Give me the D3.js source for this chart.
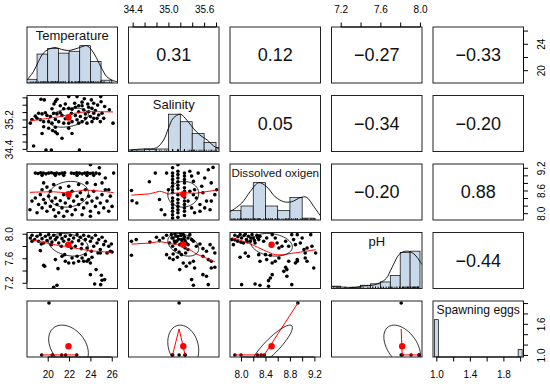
<!DOCTYPE html>
<html>
<head>
<meta charset="utf-8">
<script src="https://cdn.jsdelivr.net/npm/d3@7"></script>
<style>
  body { margin: 0; background: #fff; }
  svg { display: block; font-family: "Liberation Sans", Arial, Helvetica, sans-serif; }
</style>
</head>
<body>
<svg width="550" height="384"></svg>
<script>
// ---- data ----
const variables = ["Temperature", "Salinity", "Dissolved oxigen", "pH", "Spawning eggs"];
const labelSizes = [13, 13, 11.6, 13, 12.2];

// plotted range of each variable (data range + 4%)
const limits = [[18.06, 26.54], [34.33, 35.85], [7.82, 9.30], [7.107, 8.02], [0.96, 2.04]];
const means = [21.95, 35.25, 8.5, 7.82, 1.167];
const sds = [1.86, 0.26, 0.34, 0.185, 0.408];

// correlations shown in the upper panels
const correlations = [
  [null, 0.31, 0.12, -0.27, -0.33],
  [0.31, null, 0.05, -0.34, -0.20],
  [0.12, 0.05, null, -0.20, 0.88],
  [-0.27, -0.34, -0.20, null, -0.44],
  [-0.33, -0.20, 0.88, -0.44, null]
];

// axis ticks and the ones that carry a label
const tickValues = [
  [20, 22, 24, 26],
  [34.4, 34.6, 34.8, 35.0, 35.2, 35.4, 35.6, 35.8],
  [8.0, 8.2, 8.4, 8.6, 8.8, 9.0, 9.2],
  [7.2, 7.4, 7.6, 7.8, 8.0],
  [1.0, 1.2, 1.4, 1.6, 1.8, 2.0]
];
const salTopLabels = [34.4, 35.0, 35.6];
const phTopLabels = [7.2, 7.6, 8.0];
const salLeftLabels = [34.4, 35.2];
const phLeftLabels = [7.2, 7.6, 8.0];
const tempBottomLabels = [20, 22, 24, 26];
const doBottomLabels = [8.0, 8.4, 8.8, 9.2];
const spawnBottomLabels = [1.0, 1.4, 1.8];
const tempRightLabels = [20, 24];
const doRightLabels = [8.0, 8.6, 9.2];
const spawnRightLabels = [1.0, 1.6];

// histograms on the diagonal
const tempBreaks = [18, 19, 20, 21, 22, 23, 24, 25, 26];
const tempCounts = [4, 31, 37, 32, 34, 40, 23, 3];
const salBreaks = [34.2, 34.4, 34.6, 34.8, 35.0, 35.2, 35.4, 35.6, 35.8, 36.0];
const salCounts = [1, 3, 4, 5, 74, 59, 36, 18, 8];
const doBreaks = [7.8, 8.0, 8.2, 8.4, 8.6, 8.8, 9.0, 9.2];
const doCounts = [10, 15, 40, 15, 10, 24, 2];
const phBreaks = [7.1, 7.2, 7.3, 7.4, 7.5, 7.6, 7.7, 7.8, 7.9, 8.0];
const phCounts = [5, 0, 2, 7, 10, 14, 28, 77, 80];
const spawnValues = [1, 2];
const spawnCounts = [5, 1];

// density curves (scaled to max 1)
const tempDensity = [[18.06,0.08],[18.65,0.30],[19.12,0.57],[19.59,0.80],[20.06,0.90],[20.68,0.95],[21.31,0.90],[21.93,0.87],[22.56,0.91],[23.19,0.97],[23.65,1.0],[24.12,0.88],[24.59,0.66],[25.06,0.39],[25.53,0.17],[26.0,0.08],[26.54,0.03]];
const salDensity = [[34.33,0.04],[34.58,0.07],[34.80,0.10],[34.92,0.31],[35.0,0.62],[35.08,0.89],[35.2,1.0],[35.31,0.84],[35.42,0.62],[35.53,0.44],[35.65,0.31],[35.76,0.15],[35.85,0.07]];
const doDensity = [[7.82,0.22],[8.01,0.45],[8.15,0.76],[8.29,1.0],[8.42,0.89],[8.56,0.62],[8.70,0.49],[8.83,0.49],[8.97,0.60],[9.07,0.61],[9.19,0.36],[9.30,0.11]];
const phDensity = [[7.107,0.05],[7.2,0.04],[7.33,0.03],[7.43,0.07],[7.53,0.09],[7.60,0.16],[7.66,0.27],[7.715,0.55],[7.80,0.94],[7.88,1.0],[7.95,0.9],[8.0,0.72],[8.02,0.64]];

// scatter panels, [x, y]
const tempSal = [[19.37,35.75],[19.68,35.73],[20.59,35.62],[20.72,35.69],[20.87,35.75],[21.97,35.82],[22.75,35.82],[23.43,35.76],[24.09,35.73],[24.97,35.82],[25.0,35.68],[21.65,35.62],[22.53,35.64],[23.22,35.67],[23.75,35.62],[24.31,35.64],[24.68,35.59],[25.34,35.55],[25.78,35.46],[26.12,35.10],
  [18.84,35.29],[19.15,35.37],[19.47,35.35],[19.78,35.38],[19.93,35.31],[20.25,35.28],[20.56,35.37],[20.87,35.35],[21.18,35.38],[21.34,35.31],[21.65,35.22],[22.22,35.37],[22.59,35.31],[22.9,35.41],[23.06,35.28],[23.37,35.46],[23.53,35.35],[23.84,35.41],[24.0,35.28],[24.15,35.5],[24.31,35.37],[24.47,35.44],[24.62,35.23],[24.78,35.32],[25.09,35.37],[24.93,35.14],[24.15,35.14],[23.68,35.1],[23.22,35.14],[22.75,35.19],[22.28,35.14],[21.97,35.1],[21.5,35.1],[21.03,35.14],[20.72,35.2],[20.4,35.1],[20.09,35.14],[19.62,35.14],[19.31,35.19],[19.0,35.23],[18.53,35.2],[18.37,35.1],[22.28,35.48],[22.59,35.53],[22.9,35.57],[23.22,35.57],[23.84,35.53],[21.97,35.5],[21.5,35.49],[21.18,35.57],[20.4,35.49],[23.53,35.23],[22.9,35.1],[24.31,35.23],[25.25,35.23],
  [19.47,34.82],[19.62,35.0],[20.09,34.96],[20.46,34.9],[20.72,34.86],[20.9,34.81],[21.34,34.69],[22.28,34.82],[21.97,34.96],[20.72,34.99],[18.68,34.48],[19.84,34.37],[20.34,34.37],[22.97,34.37]];

const tempDO = [[18.84,9.06],[19.09,9.05],[19.34,9.07],[19.59,9.06],[19.84,9.04],[20.09,9.06],[20.34,9.07],[20.59,9.05],[20.84,9.06],[21.09,9.04],[21.34,9.06],[21.59,9.07],[22.22,9.06],[22.47,9.05],[22.72,9.07],[22.97,9.06],[23.22,9.04],[23.47,9.06],[23.72,9.07],[23.97,9.05],[24.22,9.06],[24.53,9.06],[24.84,9.04],
  [19.47,9.0],[20.72,9.0],[21.5,9.0],[22.75,9.0],[23.68,9.0],[24.31,9.0],
  [24.0,9.28],[24.84,9.2],[26.18,9.06],[25.4,8.93],[25.09,8.8],[19.62,8.8],[19.93,8.69],[20.56,8.76],
  [18.53,8.32],[18.84,8.40],[19.15,8.23],[19.31,8.49],[19.47,8.14],[19.62,8.36],[19.78,8.27],[19.93,8.05],[20.09,8.45],[20.25,8.18],[20.4,8.32],[20.56,8.09],[20.72,8.40],[20.87,8.23],[21.03,8.01],[21.18,8.33],[21.34,8.14],[21.5,8.49],[21.65,8.27],[21.81,8.05],[21.97,8.40],[22.12,8.18],[22.28,8.58],[22.43,8.32],[22.59,8.09],[22.75,8.45],[22.9,8.23],[23.06,8.54],[23.22,8.36],[23.37,8.14],[23.53,8.62],[23.68,8.27],[23.84,8.45],[24.0,8.05],[24.15,8.32],[24.31,8.58],[24.47,8.18],[24.62,8.40],[24.78,8.01],[24.93,8.27],[25.09,8.49],[25.25,8.14],[25.4,8.62],[25.56,8.32],[25.72,8.05],[25.87,8.45],[26.03,8.18],
  [18.34,8.09],[19.0,8.01],[20.72,7.92],[21.5,7.92],[22.28,7.96],[23.22,7.96],[24.0,7.92],[19.47,8.62],[20.25,8.58],[21.18,8.67],[21.97,8.71],[22.9,8.76],[23.68,8.80],[24.47,8.76],[25.72,8.62]];

const salDO = [[34.38,8.60],[34.39,8.33],[34.47,8.27],[34.68,8.83],[34.78,9.06],[34.85,8.36],[34.88,8.09],[34.97,9.06],[34.94,7.96],[35.0,8.62],
  [35.07,9.20],[35.07,9.06],[35.07,8.98],[35.07,8.89],[35.07,8.80],[35.07,8.71],[35.07,8.62],[35.07,8.54],[35.07,8.40],[35.07,8.32],[35.07,8.23],[35.07,8.14],[35.07,8.05],[35.07,7.96],[35.07,7.87],
  [35.16,9.28],[35.16,9.11],[35.16,9.02],[35.16,8.93],[35.16,8.83],[35.16,8.74],[35.16,8.65],[35.16,8.49],[35.16,8.36],[35.16,8.27],[35.16,8.18],[35.16,8.09],[35.16,8.01],[35.16,7.89],
  [35.27,9.06],[35.27,8.98],[35.27,8.89],[35.27,8.80],[35.27,8.67],[35.27,8.58],[35.27,8.42],[35.27,8.32],[35.27,8.23],[35.27,8.14],[35.27,8.05],[35.27,7.94],
  [35.36,9.11],[35.39,8.98],[35.42,8.84],[35.44,8.62],[35.47,8.40],[35.5,9.06],[35.53,8.23],[35.56,8.71],[35.58,8.54],[35.61,8.93],[35.64,8.32],[35.67,9.15],[35.70,8.09],[35.72,8.80],[35.75,9.21],[35.78,8.49],[35.81,8.62],[35.39,8.14],[35.44,8.01],[35.33,8.32],[35.61,8.14],[35.72,8.32],[35.53,8.05],[35.36,8.58],[35.42,8.49]];

const tempPH = [[19.31,7.724],[19.62,7.485],[19.715,7.469],[20.72,7.578],[20.965,7.431],[21.59,7.659],[21.65,7.551],[21.97,7.523],[22.43,7.523],[22.75,7.632],[23.22,7.605],[23.37,7.551],[23.68,7.551],[23.84,7.578],[24.0,7.523],[24.0,7.333],[24.53,7.415],[24.715,7.686],[24.93,7.686],[25.03,7.322],[25.09,7.241],[25.34,7.252],[25.56,7.686],[26.03,7.703],[24.4,7.181],[24.965,7.17],[20.56,7.127],[20.87,7.159],[21.34,7.632],[22.28,7.605],[22.9,7.551],[23.53,7.659],[24.15,7.616],
  [18.37,7.931],[18.53,7.974],[18.78,7.904],[19.0,7.958],[19.15,7.877],[19.31,7.985],[19.47,7.92],[19.62,7.849],[19.78,7.958],[19.93,7.887],[20.09,7.985],[20.25,7.931],[20.4,7.866],[20.56,7.974],[20.72,7.904],[20.87,7.942],[21.03,7.849],[21.18,7.985],[21.34,7.92],[21.5,7.877],[21.65,7.958],[21.81,7.822],[21.97,7.904],[22.12,7.974],[22.28,7.866],[22.43,7.931],[22.59,7.795],[22.75,7.985],[22.9,7.887],[23.06,7.942],[23.22,7.833],[23.37,7.974],[23.53,7.904],[23.68,7.768],[23.84,7.958],[24.0,7.877],[24.15,7.931],[24.31,7.795],[24.47,7.974],[24.62,7.849],[24.78,7.904],[24.93,7.741],[25.09,7.942],[25.25,7.822],[25.4,7.877],[25.72,7.795],[25.965,7.833],[18.53,7.877],[19.4,7.833],[20.34,7.822],[21.28,7.795],[22.22,7.768],[23.15,7.757],[24.09,7.714],[25.87,7.714]];

const salPH = [[34.38,7.877],[34.46,7.904],[34.69,7.866],[34.80,7.942],[34.85,7.887],[34.91,7.931],[34.97,7.974],[35.02,7.849],
  [35.05,7.985],[35.08,7.931],[35.11,7.996],[35.14,7.877],[35.16,7.958],[35.19,7.822],[35.22,7.904],[35.25,7.985],[35.28,7.768],[35.30,7.849],[35.33,7.931],[35.07,7.795],[35.12,7.741],[35.18,7.703],[35.24,7.833],[35.29,7.686],[35.08,7.67],[35.15,7.616],[35.22,7.659],[35.33,7.741],[35.36,7.985],[35.39,7.904],[35.11,7.849],[35.2,8.012],[35.28,7.887],[35.33,7.822],
  [35.06,7.93],[35.13,7.96],[35.17,7.91],[35.21,7.97],[35.26,7.92],[35.1,7.88],[35.23,7.86],[35.27,7.95],
  [35.42,7.877],[35.47,7.795],[35.53,7.833],[35.58,7.757],[35.64,7.714],[35.70,7.822],[35.75,7.768],[35.78,7.686],[35.58,7.632],[35.67,7.578],[35.72,7.551],[35.78,7.453],
  [34.38,7.648],[34.97,7.659],[35.08,7.578],[35.19,7.415],[35.25,7.523],[35.30,7.469],[35.36,7.523],[35.42,7.551],[35.44,7.442],[35.58,7.333],[35.64,7.306],[35.72,7.442],[35.39,7.252],[35.42,7.159],[35.67,7.17],[35.02,7.605]];

const doPH = [[7.85,7.904],[7.875,7.822],[7.90,7.974],[7.946,7.877],[7.985,7.985],[8.01,7.931],[8.04,7.849],[8.07,7.996],[8.09,7.904],[8.12,7.958],[8.15,7.877],[8.18,7.985],[8.20,7.931],[8.23,7.849],[8.26,7.974],[8.29,7.904],[8.31,7.958],[8.37,7.877],[8.42,7.931],[8.51,7.985],[8.56,7.931],[8.59,7.849],[8.62,7.768],[8.67,7.795],[8.73,7.877],[8.78,7.795],[8.83,7.985],[8.86,7.904],[8.89,7.822],[8.92,7.985],[8.97,7.849],[9.0,7.931],[9.03,7.741],[9.05,7.686],[9.08,7.768],[9.14,7.985],[9.16,7.795],[9.22,7.686],[9.05,7.605],[9.08,7.551],[8.92,7.578],[8.89,7.523],[8.78,7.551],
  [7.90,7.90],[7.95,7.95],[8.05,7.97],[8.1,7.87],[8.16,7.93],[8.22,7.89],[8.27,7.94],[8.0,7.86],
  [7.985,7.616],[8.07,7.686],[8.29,7.659],[8.31,7.551],[8.40,7.659],[8.42,7.578],[8.48,7.648],[8.51,7.523],[8.56,7.551],[8.62,7.605],[8.73,7.453],[8.75,7.415],[8.70,7.387],[9.19,7.442],[8.92,7.551],
  [8.51,7.333],[8.48,7.279],[8.45,7.235],[8.75,7.306],[8.31,7.159],[8.01,7.17],[8.23,7.181],[8.45,7.143],[8.83,7.17],[8.12,7.632]];

const tempSpawn = [[19.44,1],[20.43,1],[21.31,1],[21.68,1],[22.72,1],[20.12,2]];
const salSpawn = [[35.07,1],[35.07,1],[35.18,1],[35.28,1],[35.28,1],[35.18,2]];
const doSpawn = [[7.90,1],[8.00,1],[8.27,1],[8.33,1],[8.38,1],[8.93,2]];
const phSpawn = [[7.81,1],[7.82,1],[7.91,1],[7.99,1],[7.99,1],[7.81,2]];

// ---- layout ----
const svg = d3.select("svg");
const marginLeft = 27, marginTop = 27, pw = 90.5, ph = 56, stepX = 101.5, stepY = 68.5;
const n = variables.length;
const histFill = "#c9d9ea";

const xScales = limits.map((d, j) => d3.scaleLinear().domain(d).range([marginLeft + j * stepX, marginLeft + j * stepX + pw]));
const yScales = limits.map((d, i) => d3.scaleLinear().domain(d).range([marginTop + i * stepY + ph, marginTop + i * stepY]));

const scatterData = {
  "1,0": tempSal, "2,0": tempDO, "2,1": salDO, "3,0": tempPH, "3,1": salPH, "3,2": doPH,
  "4,0": tempSpawn, "4,1": salSpawn, "4,2": doSpawn, "4,3": phSpawn
};
const histData = [
  { breaks: tempBreaks, counts: tempCounts, dens: tempDensity, rug: tempSal.map(d => d[0]) },
  { breaks: salBreaks, counts: salCounts, dens: salDensity, rug: salDO.map(d => d[0]) },
  { breaks: doBreaks, counts: doCounts, dens: doDensity, rug: doPH.map(d => d[0]) },
  { breaks: phBreaks, counts: phCounts, dens: phDensity, rug: tempPH.map(d => d[1]) }
];

// R's lowess (clowess)
function lowest(x, y, n, xs, nleft, nright, w, userw, rw) {
  const range = x[n - 1] - x[0];
  const h = Math.max(xs - x[nleft], x[nright] - xs);
  const h9 = 0.999 * h, h1 = 0.001 * h;
  let a = 0, j = nleft;
  while (j < n) {
    w[j] = 0;
    const r = Math.abs(x[j] - xs);
    if (r <= h9) {
      w[j] = r <= h1 ? 1 : Math.pow(1 - Math.pow(r / h, 3), 3);
      if (userw) w[j] *= rw[j];
      a += w[j];
    } else if (x[j] > xs) break;
    j++;
  }
  const nrt = j - 1;
  if (a <= 0) return null;
  for (j = nleft; j <= nrt; j++) w[j] /= a;
  if (h > 0) {
    a = 0;
    for (j = nleft; j <= nrt; j++) a += w[j] * x[j];
    let b = xs - a, c = 0;
    for (j = nleft; j <= nrt; j++) c += w[j] * (x[j] - a) * (x[j] - a);
    if (Math.sqrt(c) > 0.001 * range) {
      b /= c;
      for (j = nleft; j <= nrt; j++) w[j] *= (b * (x[j] - a) + 1);
    }
  }
  let ys = 0;
  for (j = nleft; j <= nrt; j++) ys += w[j] * y[j];
  return ys;
}

function lowess(pts, f = 2 / 3, iter = 3) {
  const s = pts.slice().sort((a, b) => a[0] - b[0]);
  const x = s.map(d => d[0]), y = s.map(d => d[1]), n = x.length;
  const delta = 0.01 * (x[n - 1] - x[0]);
  const ns = Math.max(2, Math.min(n, Math.floor(f * n + 1e-7)));
  const ys = new Array(n).fill(0), rw = new Array(n).fill(1), res = new Array(n).fill(0);
  for (let it = 1; it <= iter + 1; it++) {
    let nleft = 0, nright = ns - 1, last = -1, i = 0;
    for (;;) {
      if (nright < n - 1) {
        const d1 = x[i] - x[nleft], d2 = x[nright + 1] - x[i];
        if (d1 > d2) { nleft++; nright++; continue; }
      }
      const v = lowest(x, y, n, x[i], nleft, nright, res, it > 1, rw);
      ys[i] = v === null ? y[i] : v;
      if (last < i - 1) {
        const denom = x[i] - x[last];
        for (let j = last + 1; j < i; j++) {
          const alpha = (x[j] - x[last]) / denom;
          ys[j] = alpha * ys[i] + (1 - alpha) * ys[last];
        }
      }
      last = i;
      const cut = x[last] + delta;
      for (i = last + 1; i < n; i++) {
        if (x[i] > cut) break;
        if (x[i] === x[last]) { ys[i] = ys[last]; last = i; }
      }
      i = Math.max(last + 1, i - 1);
      if (last >= n - 1) break;
    }
    for (let k = 0; k < n; k++) res[k] = y[k] - ys[k];
    if (it > iter) break;
    const ar = res.map(Math.abs);
    const sc = d3.mean(ar);
    const cmad = 6 * d3.median(ar);
    if (cmad < 1e-7 * sc || cmad === 0) break;
    const c9 = 0.999 * cmad, c1 = 0.001 * cmad;
    for (let k = 0; k < n; k++) {
      const r = ar[k];
      rw[k] = r <= c1 ? 1 : r <= c9 ? Math.pow(1 - (r / cmad) * (r / cmad), 2) : 0;
    }
  }
  return x.map((v, k) => [v, ys[k]]);
}

// correlation ellipse as in psych::pairs.panels
function ellipse(xm, ym, xs, ys, r) {
  const t = (r !== 0 ? Math.sign(r) : 1) / Math.SQRT2;
  const a = Math.sqrt(1 + r), b = Math.sqrt(1 - r);
  return d3.range(52).map(k => {
    const ang = k * 2 * Math.PI / 51;
    const c = Math.cos(ang), s = Math.sin(ang);
    return [(c * a * t - s * b * t) * xs + xm, (c * a * t + s * b * t) * ys + ym];
  });
}

const fmtCor = d3.format(".2f");

for (let i = 0; i < n; i++) {
  for (let j = 0; j < n; j++) {
    const x0 = marginLeft + j * stepX, y0 = marginTop + i * stepY;
    const clipId = `clip-${i}-${j}`;
    svg.append("clipPath").attr("id", clipId)
      .append("rect").attr("x", x0).attr("y", y0).attr("width", pw).attr("height", ph);
    const g = svg.append("g");
    const inner = g.append("g").attr("clip-path", `url(#${clipId})`);

    if (i > j) {
      // scatter + lowess + ellipse
      const xS = xScales[j], yS = yScales[i];
      const pts = scatterData[`${i},${j}`];
      inner.selectAll("circle.pt").data(pts).join("circle")
        .attr("class", "pt")
        .attr("cx", d => xS(d[0])).attr("cy", d => yS(d[1]))
        .attr("r", 1.8).attr("fill", "#000");
      const line = d3.line().x(d => xS(d[0])).y(d => yS(d[1]));
      inner.append("path").attr("d", line(lowess(pts)))
        .attr("fill", "none").attr("stroke", "#ff0000").attr("stroke-width", 1);
      inner.append("path").attr("d", line(ellipse(means[j], means[i], sds[j], sds[i], correlations[i][j])))
        .attr("fill", "none").attr("stroke", "#000").attr("stroke-width", 0.8);
      inner.append("circle")
        .attr("cx", xS(means[j])).attr("cy", yS(means[i]))
        .attr("r", 3.2).attr("fill", "#ff0000");
    } else if (i < j) {
      g.append("text")
        .attr("x", x0 + pw / 2).attr("y", y0 + ph / 2)
        .attr("text-anchor", "middle").attr("dominant-baseline", "central")
        .attr("font-size", 18).attr("fill", "#111")
        .text(fmtCor(correlations[i][j]));
    } else {
      const xS = xScales[j];
      const hy = d3.scaleLinear().domain([0, 1.5]).range([y0 + ph, y0]);
      if (i < 4) {
        const h = histData[i];
        const mx = d3.max(h.counts);
        inner.selectAll("rect.bar").data(h.counts).join("rect")
          .attr("class", "bar")
          .attr("x", (c, k) => xS(h.breaks[k]))
          .attr("width", (c, k) => xS(h.breaks[k + 1]) - xS(h.breaks[k]))
          .attr("y", c => hy(c / mx))
          .attr("height", c => hy(0) - hy(c / mx))
          .attr("fill", histFill).attr("stroke", "#000").attr("stroke-width", 0.7);
        inner.append("path")
          .attr("d", d3.line().curve(d3.curveCatmullRom).x(d => xS(d[0])).y(d => hy(d[1]))(h.dens))
          .attr("fill", "none").attr("stroke", "#000").attr("stroke-width", 0.9);
        inner.selectAll("line.rug").data(h.rug).join("line")
          .attr("class", "rug")
          .attr("x1", d => xS(d)).attr("x2", d => xS(d))
          .attr("y1", y0 + ph).attr("y2", y0 + ph - 1.8)
          .attr("stroke", "#000").attr("stroke-width", 0.6);
      } else {
        const mx = d3.max(spawnCounts);
        const half = 0.024;
        inner.selectAll("rect.bar").data(spawnCounts).join("rect")
          .attr("class", "bar")
          .attr("x", (c, k) => xS(spawnValues[k] - half))
          .attr("width", (c, k) => xS(spawnValues[k] + half) - xS(spawnValues[k] - half))
          .attr("y", c => hy(c / mx))
          .attr("height", c => hy(0) - hy(c / mx))
          .attr("fill", histFill).attr("stroke", "#000").attr("stroke-width", 0.7);
      }
      g.append("text")
        .attr("x", x0 + pw / 2).attr("y", y0 + 8.5)
        .attr("text-anchor", "middle").attr("dominant-baseline", "central")
        .attr("font-size", labelSizes[i]).attr("fill", "#111")
        .text(variables[i]);
    }

    g.append("rect")
      .attr("x", x0).attr("y", y0).attr("width", pw).attr("height", ph)
      .attr("fill", "none").attr("stroke", "#222").attr("stroke-width", 1);
  }
}

// ---- outer axes ----
const axisSpecs = [
  { side: "top", k: 1, labels: salTopLabels },
  { side: "top", k: 3, labels: phTopLabels },
  { side: "left", k: 1, labels: salLeftLabels },
  { side: "left", k: 3, labels: phLeftLabels },
  { side: "bottom", k: 0, labels: tempBottomLabels },
  { side: "bottom", k: 2, labels: doBottomLabels },
  { side: "bottom", k: 4, labels: spawnBottomLabels },
  { side: "right", k: 0, labels: tempRightLabels },
  { side: "right", k: 2, labels: doRightLabels },
  { side: "right", k: 4, labels: spawnRightLabels }
];
const makers = { top: d3.axisTop, bottom: d3.axisBottom, left: d3.axisLeft, right: d3.axisRight };
const edge = {
  top: marginTop, bottom: marginTop + (n - 1) * stepY + ph,
  left: marginLeft, right: marginLeft + (n - 1) * stepX + pw
};

axisSpecs.forEach(a => {
  const k = a.k;
  const fmt = k === 0 ? d3.format("d") : d3.format(".1f");
  const horiz = a.side === "top" || a.side === "bottom";
  const scale = horiz ? xScales[k] : yScales[k];
  const axis = makers[a.side](scale)
    .tickValues(tickValues[k]).tickSize(4.5).tickSizeOuter(0)
    .tickFormat(v => a.labels.includes(v) ? fmt(v) : "");
  const g = svg.append("g")
    .attr("transform", horiz ? `translate(0,${edge[a.side]})` : `translate(${edge[a.side]},0)`)
    .call(axis);
  g.attr("font-family", null).attr("font-size", 10);
  g.select(".domain").remove();
  const ext = d3.extent(tickValues[k]).map(scale);
  g.append("line")
    .attr("x1", horiz ? ext[0] : 0).attr("x2", horiz ? ext[1] : 0)
    .attr("y1", horiz ? 0 : ext[0]).attr("y2", horiz ? 0 : ext[1])
    .attr("stroke", "#000");
  g.selectAll(".tick line").attr("stroke", "#000");
  const txt = g.selectAll(".tick text").attr("fill", "#000");
  if (a.side === "top") txt.attr("y", -17.5).attr("dy", "0.35em");
  if (a.side === "bottom") txt.attr("y", 17.5).attr("dy", "0.35em");
  if (a.side === "left" || a.side === "right") {
    const off = a.side === "left" ? -17.5 : 17.5;
    txt.attr("x", 0).attr("y", 0).attr("dy", "0.35em").attr("text-anchor", "middle")
      .attr("transform", `translate(${off},0) rotate(-90)`);
  }
});
</script>
</body>
</html>
